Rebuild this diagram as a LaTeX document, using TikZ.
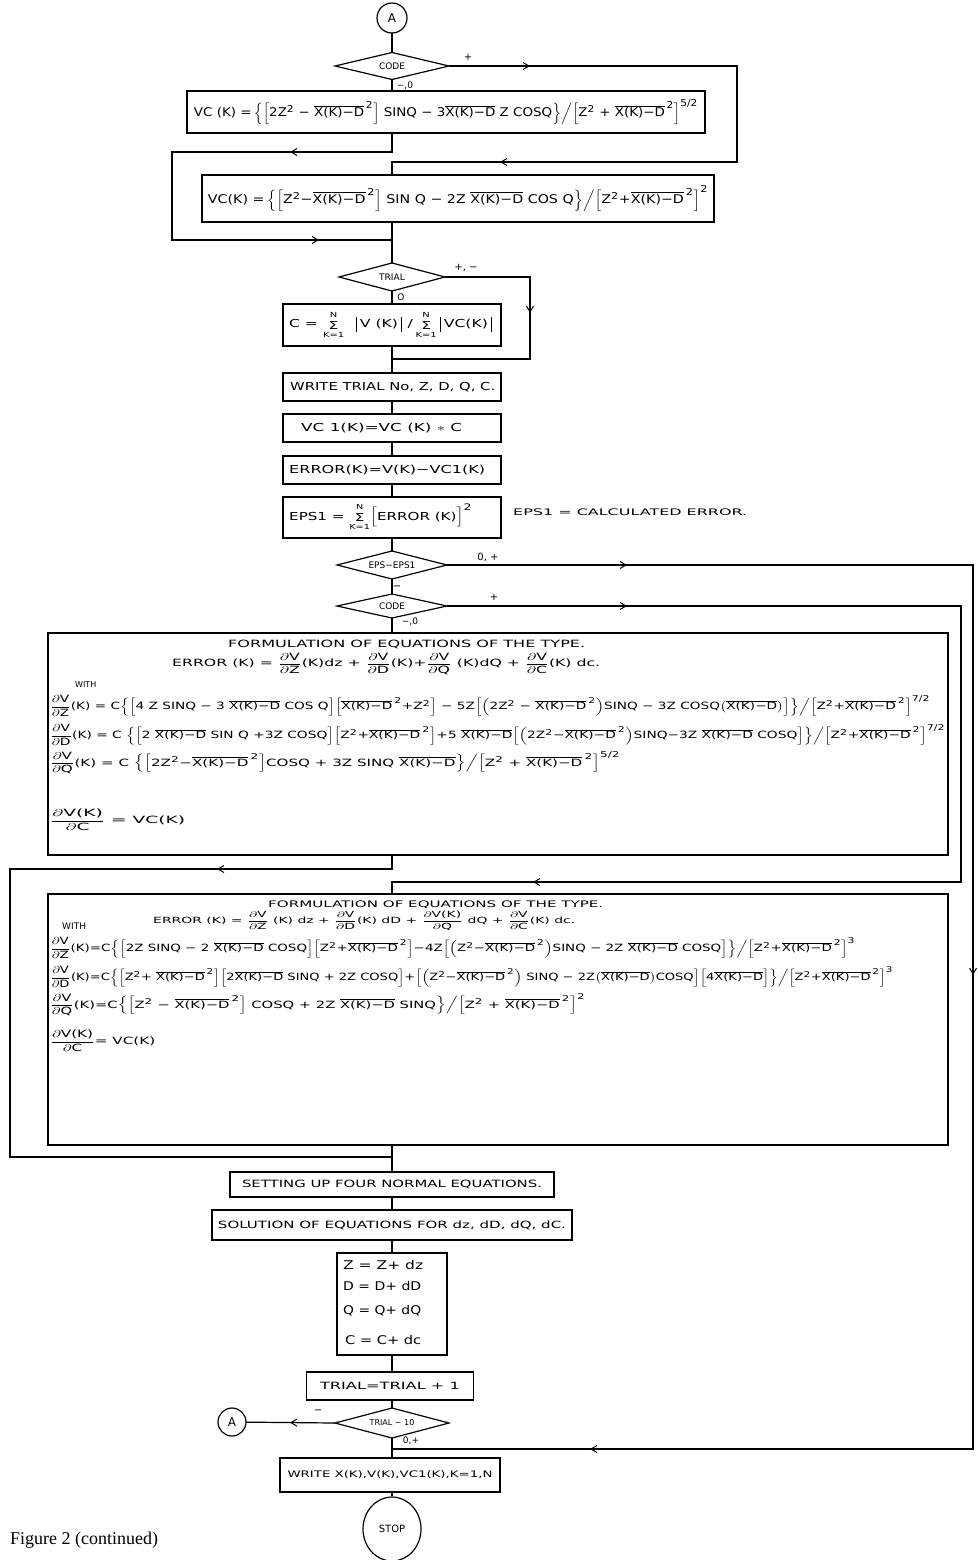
\documentclass[tikz,border=0pt]{standalone}
\usepackage{amsmath}
\usepackage{graphicx}
\usepackage{fontspec}
\setmainfont{DejaVu Sans}
\newfontfamily\capfont{Liberation Serif}
\usetikzlibrary{shapes.geometric,arrows.meta,decorations.markings}
\DeclareMathSizes{8}{8}{6.5}{5}
\DeclareMathSizes{9}{9}{7.5}{6}
\DeclareMathSizes{10}{10}{8}{6}
\DeclareMathSizes{11}{11}{9}{7}
\DeclareMathSizes{12}{12}{9.5}{7.5}
\newcommand{\fs}[1]{\fontsize{#1}{#1}\selectfont}
\newcommand{\fitto}[2]{\resizebox{#1pt}{\height}{#2}}
\newcommand{\xd}{\overline{\text{X(K)−D}}}
\newcommand{\xdd}{\overline{\text{X(K)−D}}^{\,\text{2}}}
\newcommand{\sqd}{^{\text{2}}}
\newcommand{\pdr}[2]{\dfrac{\partial\text{#1}}{\partial\text{#2}}}
\newcommand{\sumNK}{\ensuremath{\vcenter{\hbox{\shortstack{{\fs{7}N}\\[0.5pt]{\fs{11}Σ}\\[0.5pt]{\fs{7}K=1}}}}}}
\newcommand{\vbar}{\hspace{2pt}\rule[-4pt]{0.9pt}{15pt}\hspace{2pt}}
\tikzset{
 ln/.style={line width=1.2pt},
 box/.style={draw, line width=1.2pt, rectangle, inner sep=0pt, outer sep=0pt},
 dia/.style={draw, line width=1.2pt, diamond, aspect=4, inner sep=0pt, outer sep=0pt, font=\fs{9}},
 circ/.style={draw, line width=1.2pt, circle, inner sep=0pt, outer sep=0pt},
 lbl/.style={inner sep=0pt, font=\fs{10}},
 txt/.style={inner sep=0pt, anchor=west},
 arrs/.style={postaction={decorate,decoration={markings,mark=at position #1 with {\arrow{Straight Barb[length=6pt,width=7pt,line width=1pt]}}}}},
}
\begin{document}
\begin{tikzpicture}[x=1pt,y=-1pt]
\useasboundingbox (0,0) rectangle (977,1560);
\fill[white] (0,0) rectangle (977,1560);

% ---------- top part ----------
\node[circ, minimum size=30pt, font=\fs{12}] (A1) at (392,18) {A};
\node[dia, minimum width=114pt, minimum height=27pt] (code1) at (392,66) {CODE};
\node[lbl] (p1) at (468,57) {+};
\node[lbl, font=\fs{9}] (m1) at (405,86) {−,0};
\node[box, minimum width=518pt, minimum height=42pt] (box1) at (446,112)
 {\fitto{504}{\fs{12}VC (K) =\,$\Big\{\Big[$2Z$\sqd$ − $\xdd\Big]$ SINQ − 3$\xd$ Z COSQ$\Big\}\Big/\Big[$Z$\sqd$ + $\xdd\Big]^{\text{5/2}}$}};
\node[box, minimum width=512pt, minimum height=47pt] (box2) at (458,198.5)
 {\fitto{500}{\fs{12}VC(K) =\,$\Big\{\Big[$Z$\sqd$−$\xdd\Big]$ SIN Q − 2Z $\xd$ COS Q$\Big\}\Big/\Big[$Z$\sqd$+$\xdd\Big]\sqd$}};

\node[dia, minimum width=106pt, minimum height=28pt] (trial) at (392,277) {TRIAL};
\node[lbl] (p2) at (466,268) {+, −};
\node[lbl, font=\fs{9}] (o2) at (401,297) {O};
\node[box, minimum width=218pt, minimum height=42pt] (boxC) at (392,325)
 {\fitto{206}{\fs{11}C = \sumNK\hspace{6pt}\vbar V (K)\vbar\,/\,\sumNK\vbar VC(K)\vbar}};
\node[box, minimum width=218pt, minimum height=28pt] (boxW) at (392,387) {};
\node[txt] (tW) at (290,387) {\fitto{205}{\fs{11}WRITE TRIAL No, Z, D, Q, C.}};
\node[box, minimum width=218pt, minimum height=28pt] (boxV) at (392,428) {};
\node[txt] (tV) at (301,428) {\fitto{161}{\fs{11}VC 1(K)=VC (K) $\ast$ C}};
\node[box, minimum width=218pt, minimum height=28pt] (boxE) at (392,470) {};
\node[txt] (tE) at (289,470) {\fitto{196}{\fs{11}ERROR(K)=V(K)−VC1(K)}};
\node[box, minimum width=218pt, minimum height=41pt] (boxEPS) at (392,517.5) {};
\node[txt] (tEPS) at (289,517) {\fitto{183}{\fs{11}EPS1 = \sumNK$\Big[$ERROR (K)$\Big]\sqd$}};
\node[txt] (tcal) at (513,512) {\fitto{234}{\fs{9}EPS1 = CALCULATED ERROR.}};

\node[dia, minimum width=110pt, minimum height=28pt] (eps) at (392,565) {EPS−EPS1};
\node[lbl] (p3) at (488,557) {0, +};
\node[lbl] (m3) at (397,588) {−};
\node[dia, minimum width=110pt, minimum height=24pt] (code2) at (392,606) {CODE};
\node[lbl] (p4) at (494,597) {+};
\node[lbl, font=\fs{9}] (m4) at (410,622) {−,0};

% ---------- big box 1 ----------
\node[box, minimum width=900pt, minimum height=222pt] (box3) at (498,744) {};
\node[txt] (t3a) at (228,644) {\fitto{357}{\fs{10}FORMULATION OF EQUATIONS OF THE TYPE.}};
\node[txt] (t3b) at (172,664) {\fitto{428}{\fs{10}ERROR (K) = $\pdr{V}{Z}$(K)dz + $\pdr{V}{D}$(K)+$\pdr{V}{Q}$ (K)dQ + $\pdr{V}{C}$(K) dc.}};
\node[txt] (t3c) at (75,685) {\fs{8}WITH};
\node[txt] (t3d) at (50,706) {\fitto{880}{\fs{10}$\pdr{V}{Z}$(K) = C$\Big\{\Big[$4 Z SINQ − 3 $\xd$ COS Q$\Big]\Big[\xdd$+Z$\sqd\Big]$ − 5Z$\Big[\Big($2Z$\sqd$ − $\xdd\Big)$SINQ − 3Z COSQ$\big(\xd\big)\Big]\Big\}\Big/\Big[$Z$\sqd$+$\xdd\Big]^{\text{7/2}}$}};
\node[txt] (t3e) at (50,735) {\fitto{895}{\fs{10}$\pdr{V}{D}$(K) = C $\Big\{\Big[$2 $\xd$ SIN Q +3Z COSQ$\Big]\Big[$Z$\sqd$+$\xdd\Big]$+5 $\xd\Big[\Big($2Z$\sqd$−$\xdd\Big)$SINQ−3Z $\xd$ COSQ$\Big]\Big\}\Big/\Big[$Z$\sqd$+$\xdd\Big]^{\text{7/2}}$}};
\node[txt] (t3f) at (50,763) {\fitto{570}{\fs{10}$\pdr{V}{Q}$(K) = C $\Big\{\Big[$2Z$\sqd$−$\xdd\Big]$COSQ + 3Z SINQ $\xd\Big\}\Big/\Big[$Z$\sqd$ + $\xdd\Big]^{\text{5/2}}$}};
\node[txt] (t3g) at (50,820) {\fitto{135}{\fs{10}$\pdr{V(K)}{C}$ = VC(K)}};

% ---------- big box 2 ----------
\node[box, minimum width=900pt, minimum height=251pt] (box4) at (498,1019.5) {};
\node[txt] (t4a) at (268,905) {\fitto{335}{\fs{9}FORMULATION OF EQUATIONS OF THE TYPE.}};
\node[txt] (t4b) at (153,921) {\fitto{422}{\fs{8.5}ERROR (K) = $\pdr{V}{Z}$ (K) dz + $\pdr{V}{D}$(K) dD + $\pdr{V(K)}{Q}$ dQ + $\pdr{V}{C}$(K) dc.}};
\node[txt] (t4c) at (62,926) {\fs{9}WITH};
\node[txt] (t4d) at (50,948) {\fitto{805}{\fs{10}$\pdr{V}{Z}$(K)=C$\Big\{\Big[$2Z SINQ − 2 $\xd$ COSQ$\Big]\Big[$Z$\sqd$+$\xdd\Big]$−4Z$\Big[\Big($Z$\sqd$−$\xdd\Big)$SINQ − 2Z $\xd$ COSQ$\Big]\Big\}\Big/\Big[$Z$\sqd$+$\xdd\Big]^{\text{3}}$}};
\node[txt] (t4e) at (50,977) {\fitto{843}{\fs{10}$\pdr{V}{D}$(K)=C$\Big\{\Big[$Z$\sqd$+ $\xdd\Big]\Big[$2$\xd$ SINQ + 2Z COSQ$\Big]$+$\Big[\Big($Z$\sqd$−$\xdd\Big)$ SINQ − 2Z$\big(\xd\big)$COSQ$\Big]\Big[$4$\xd\Big]\Big\}\Big/\Big[$Z$\sqd$+$\xdd\Big]^{\text{3}}$}};
\node[txt] (t4f) at (50,1005) {\fitto{535}{\fs{10}$\pdr{V}{Q}$(K)=C$\Big\{\Big[$Z$\sqd$ − $\xdd\Big]$ COSQ + 2Z $\xd$ SINQ$\Big\}\Big/\Big[$Z$\sqd$ + $\xdd\Big]\sqd$}};
\node[txt] (t4g) at (50,1041) {\fitto{105}{\fs{10}$\pdr{V(K)}{C}$= VC(K)}};

% ---------- bottom part ----------
\node[box, minimum width=324pt, minimum height=25pt] (setting) at (392,1184.5)
 {\fitto{300}{\fs{10}SETTING UP FOUR NORMAL EQUATIONS.}};
\node[box, minimum width=360pt, minimum height=30pt] (solution) at (392,1225)
 {\fitto{348}{\fs{10}SOLUTION OF EQUATIONS FOR dz, dD, dQ, dC.}};
\node[box, minimum width=110pt, minimum height=102pt] (update) at (392,1304) {};
\node[txt] (u1) at (343,1265) {\fitto{80}{\fs{12}Z = Z+ dz}};
\node[txt] (u2) at (343,1286) {\fitto{78}{\fs{12}D = D+ dD}};
\node[txt] (u3) at (343,1311) {\fitto{78}{\fs{12}Q = Q+ dQ}};
\node[txt] (u4) at (345,1340) {\fitto{76}{\fs{12}C = C+ dc}};
\node[box, minimum width=167pt, minimum height=28pt] (tplus) at (390,1386)
 {\fitto{140}{\fs{10}TRIAL=TRIAL + 1}};
\node[dia, minimum width=114pt, minimum height=30pt, font=\fs{8}] (t10) at (392,1423) {TRIAL − 10};
\node[lbl] (m5) at (318,1412) {−};
\node[lbl, font=\fs{9}] (p5) at (411,1441) {0,+};
\node[circ, minimum size=28pt, font=\fs{12}] (A2) at (232,1422) {A};
\node[box, minimum width=220pt, minimum height=34pt] (write) at (390,1475)
 {\fitto{205}{\fs{9}WRITE X(K),V(K),VC1(K),K=1,N}};
\node[draw, line width=1.2pt, ellipse, minimum width=58pt, minimum height=64pt, inner sep=0pt, font=\fs{10}] (stop) at (392,1529) {STOP};
\node[txt] (cap) at (10,1540) {\capfont\fs{18}Figure 2 (continued)};

% ---------- connectors ----------
\coordinate (L1a) at (392,152); \coordinate (L1b) at (172,152);
\coordinate (L1c) at (172,240); \coordinate (J1) at (392,240);
\coordinate (R1a) at (737,66); \coordinate (R1b) at (737,162); \coordinate (R1c) at (392,162);
\coordinate (T1a) at (530,277); \coordinate (T1b) at (530,359); \coordinate (T1c) at (392,359);
\coordinate (E1a) at (973,565); \coordinate (E1b) at (973,1449); \coordinate (E1c) at (392,1449);
\coordinate (C2a) at (961,606); \coordinate (C2b) at (961,882); \coordinate (C2c) at (392,882);
\coordinate (B3a) at (392,869); \coordinate (B3b) at (10,869);
\coordinate (B3c) at (10,1157); \coordinate (B3d) at (392,1157);

\draw[ln] (A1) -- (code1);
\draw[ln] (code1.south) -- (code1.south |- box1.north);
\draw[ln, arrs=121pt, arrs=474pt] (box1.south -| code1.south) -- (L1a) -- (L1b) -- (L1c) -- (J1);
\draw[ln, arrs=81pt, arrs=621pt] (code1.east) -- (R1a) -- (R1b) -- (R1c) -- (R1c |- box2.north);
\draw[ln] (box2.south -| code1.south) -- (trial.north);
\draw[ln, arrs=121pt] (trial.east) -- (T1a) -- (T1b) -- (T1c);
\draw[ln] (trial.south) -- (boxC.north);
\draw[ln] (boxC.south) -- (boxW.north);
\draw[ln] (boxW.south) -- (boxV.north);
\draw[ln] (boxV.south) -- (boxE.north);
\draw[ln] (boxE.south) -- (boxEPS.north);
\draw[ln] (boxEPS.south) -- (eps.north);
\draw[ln] (eps.south) -- (code2.north);
\draw[ln, arrs=180pt, arrs=936pt, arrs=1793pt] (eps.east) -- (E1a) -- (E1b) -- (E1c);
\draw[ln, arrs=180pt, arrs=1218pt] (code2.east) -- (C2a) -- (C2b) -- (C2c) -- (C2c |- box4.north);
\draw[ln] (code2.south) -- (code2.south |- box3.north);
\draw[ln, arrs=189pt] (box3.south -| code2.south) -- (B3a) -- (B3b) -- (B3c) -- (B3d);
\draw[ln] (box4.south -| code2.south) -- (setting.north);
\draw[ln] (setting.south) -- (solution.north);
\draw[ln] (solution.south) -- (update.north);
\draw[ln] (update.south) -- (update.south |- tplus.north);
\draw[ln] (update.south |- tplus.south) -- (t10.north);
\draw[ln, arrs=45pt] (t10.west) -- (A2);
\draw[ln] (t10.south) -- (t10.south |- write.north);
\draw[ln] (t10.south |- write.south) -- (stop.north);
\end{tikzpicture}
\end{document}
